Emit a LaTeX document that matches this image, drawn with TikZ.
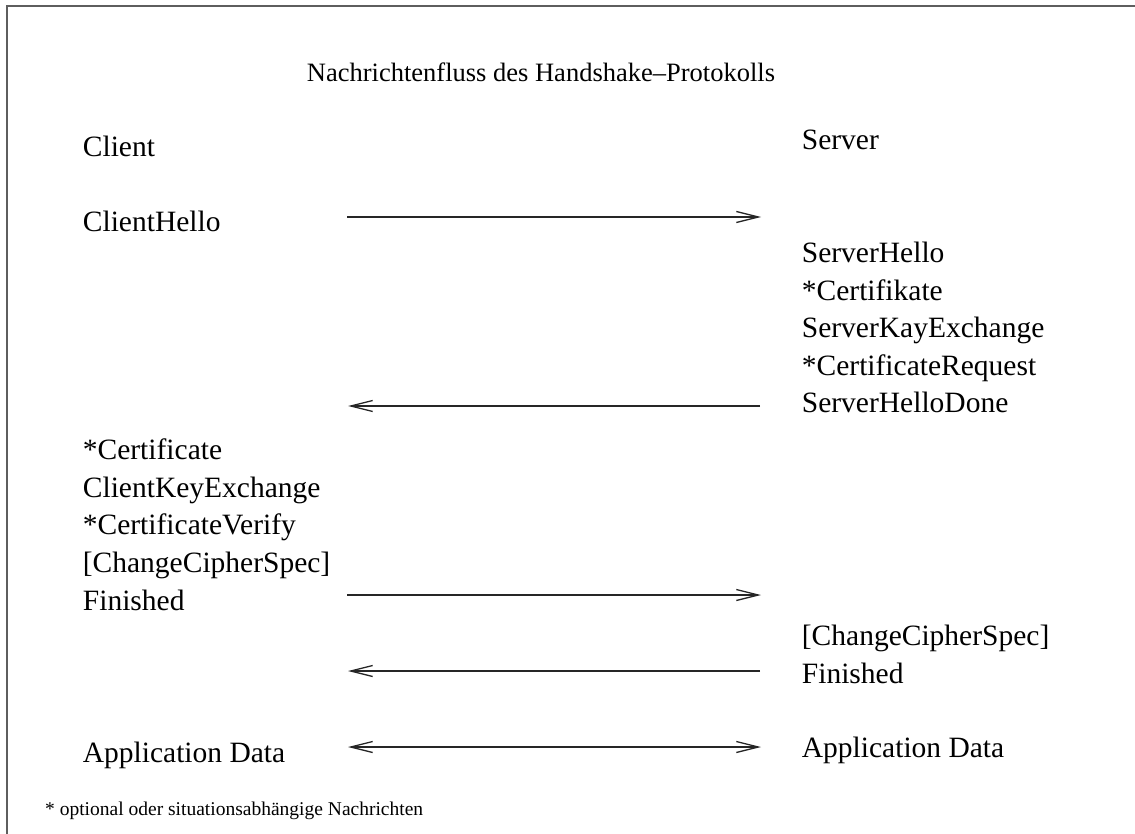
\documentclass[tikz,border=0pt]{standalone}
\usepackage{fontspec}
\setmainfont{Liberation Serif}
\usetikzlibrary{arrows.meta}
\definecolor{framegray}{HTML}{5E5E5E}
\tikzset{
  msg/.style={anchor=base west, inner sep=0pt, font=\fontsize{29.5}{35}\selectfont},
  ttl/.style={anchor=base, inner sep=0pt, font=\fontsize{26.5}{32}\selectfont},
  note/.style={anchor=base west, inner sep=0pt, font=\fontsize{19.5}{23}\selectfont},
  flow/.style={line width=1.3pt, black!85, arrows={-Straight Barb[length=22pt,width=11pt]}},
  flowboth/.style={line width=1.3pt, black!85, arrows={Straight Barb[length=22pt,width=11pt]-Straight Barb[length=22pt,width=11pt]}},
  frame/.style={line width=2pt, framegray}
}
\begin{document}
\begin{tikzpicture}[x=1pt,y=-1pt]
\useasboundingbox (0,0) rectangle (1135,834);
% outer frame (top and left edges)
\draw[frame] (7,834) -- (7,6) -- (1135,6);

% title
\node[ttl] (title) at (541,81.5) {Nachrichtenfluss des Handshake–Protokolls};

% client column
\node[msg] (client) at (82.7,157) {Client};
\node[msg] (chello) at (82.7,232) {ClientHello};
\node[msg] (ccert) at (82.7,459.3) {*Certificate};
\node[msg] (ckey) at (82.7,497) {ClientKeyExchange};
\node[msg] (cverify) at (82.7,534.7) {*CertificateVerify};
\node[msg] (cccs) at (82.7,572.4) {[ChangeCipherSpec]};
\node[msg] (cfin) at (82.7,610) {Finished};
\node[msg] (capp) at (82.7,762) {Application Data};

% server column
\node[msg] (server) at (801.7,150) {Server};
\node[msg] (shello) at (801.7,262.7) {ServerHello};
\node[msg] (scert) at (801.7,300.2) {*Certifikate};
\node[msg] (skey) at (801.7,337.7) {ServerKayExchange};
\node[msg] (sreq) at (801.7,375.2) {*CertificateRequest};
\node[msg] (sdone) at (801.7,412.7) {ServerHelloDone};
\node[msg] (sccs) at (801.7,645) {[ChangeCipherSpec]};
\node[msg] (sfin) at (801.7,683) {Finished};
\node[msg] (sapp) at (801.7,757) {Application Data};

% footnote
\node[note] (fn) at (45,815) {* optional oder situationsabhängige Nachrichten};

% arrow end points
\coordinate (l1) at (347,217);   \coordinate (r1) at (761,217);
\coordinate (l2) at (348,406);   \coordinate (r2) at (760,406);
\coordinate (l3) at (347,595);   \coordinate (r3) at (761,595);
\coordinate (l4) at (348,671);   \coordinate (r4) at (760,671);
\coordinate (l5) at (348,747);   \coordinate (r5) at (761,747);

\draw[flow] (l1) -- (r1);
\draw[flow] (r2) -- (l2);
\draw[flow] (l3) -- (r3);
\draw[flow] (r4) -- (l4);
\draw[flowboth] (l5) -- (r5);
\end{tikzpicture}
\end{document}
